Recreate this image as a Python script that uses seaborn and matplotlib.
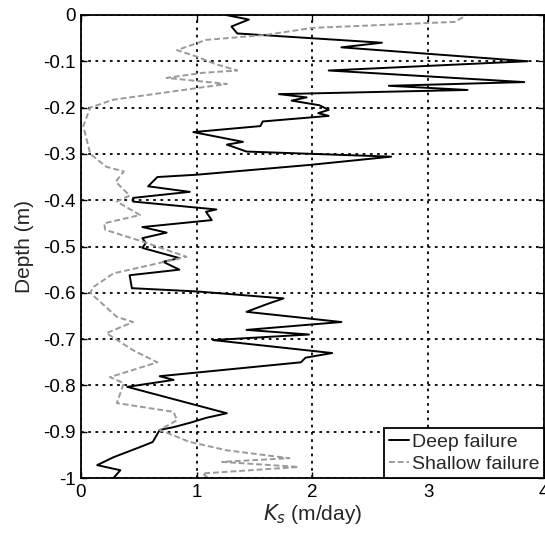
import matplotlib
matplotlib.use("Agg")
import matplotlib.pyplot as plt
import seaborn as sns
import pandas as pd

deep_ks = [1.25, 1.45, 1.3, 1.35, 2.6, 2.25, 3.86, 2.14, 3.83, 2.66, 3.34, 1.71, 1.95, 1.82,
           2.06, 2.14, 2.05, 2.14, 1.57, 1.55, 0.97, 1.4, 1.26, 1.43, 2.68, 1.97, 1.0, 0.66,
           0.58, 0.94, 0.45, 0.45, 1.17, 1.08, 1.13, 0.53, 0.74, 0.53, 0.56, 0.53, 0.85, 0.71,
           0.85, 0.42, 0.44, 1.0, 1.75, 1.6, 1.43, 2.25, 1.43, 1.97, 1.14, 2.17, 1.94, 1.9,
           0.68, 0.8, 0.4, 1.26, 1.08, 0.95, 0.8, 0.68, 0.62, 0.51, 0.28, 0.14, 0.34, 0.28]
deep_depth = [0.0, -0.01, -0.025, -0.04, -0.06, -0.07, -0.10, -0.12, -0.145, -0.153, -0.162,
              -0.171, -0.178, -0.185, -0.195, -0.205, -0.212, -0.218, -0.23, -0.24, -0.253,
              -0.274, -0.28, -0.295, -0.306, -0.324, -0.345, -0.35, -0.37, -0.382, -0.395,
              -0.403, -0.42, -0.425, -0.443, -0.458, -0.47, -0.482, -0.492, -0.503, -0.525,
              -0.533, -0.55, -0.562, -0.59, -0.597, -0.612, -0.625, -0.641, -0.663, -0.68,
              -0.69, -0.702, -0.73, -0.74, -0.75, -0.78, -0.788, -0.803, -0.86, -0.87, -0.88,
              -0.89, -0.896, -0.922, -0.933, -0.955, -0.972, -0.983, -1.0]

shallow_ks = [3.3, 3.23, 2.0, 1.6, 1.08, 0.83, 1.0, 1.15, 1.35, 1.05, 0.74, 1.26, 0.28, 0.08,
              0.02, 0.08, 0.22, 0.37, 0.3, 0.42, 0.31, 0.51, 0.2, 0.21, 0.54, 0.91, 0.6, 0.28,
              0.11, 0.08, 0.31, 0.45, 0.22, 0.45, 0.66, 0.25, 0.37, 0.31, 0.8, 0.83, 0.68, 0.94,
              1.26, 1.8, 1.22, 1.88, 1.05, 1.1]
shallow_depth = [-0.005, -0.015, -0.028, -0.043, -0.054, -0.076, -0.09, -0.105, -0.12, -0.125,
                 -0.136, -0.149, -0.183, -0.2, -0.24, -0.30, -0.328, -0.338, -0.36, -0.39,
                 -0.403, -0.432, -0.45, -0.464, -0.49, -0.522, -0.54, -0.558, -0.587, -0.6,
                 -0.652, -0.663, -0.687, -0.724, -0.75, -0.782, -0.795, -0.838, -0.857, -0.875,
                 -0.896, -0.922, -0.94, -0.957, -0.965, -0.976, -0.99, -1.0]

series_names = ["Deep failure", "Shallow failure"]
x_ticks = [0, 1, 2, 3, 4]
y_ticks = [0, -0.1, -0.2, -0.3, -0.4, -0.5, -0.6, -0.7, -0.8, -0.9, -1]
y_tick_labels = ["0", "-0.1", "-0.2", "-0.3", "-0.4", "-0.5", "-0.6", "-0.7", "-0.8", "-0.9", "-1"]

df = pd.concat([
    pd.DataFrame({"Ks": deep_ks, "Depth": deep_depth, "series": series_names[0]}),
    pd.DataFrame({"Ks": shallow_ks, "Depth": shallow_depth, "series": series_names[1]}),
], ignore_index=True)

sns.set_style("ticks")
plt.rcParams["font.family"] = ["Liberation Sans", "DejaVu Sans"]
plt.rcParams["axes.unicode_minus"] = False

fig = plt.figure(figsize=(5.45, 5.33), dpi=100)
ax = fig.add_axes([0.1486, 0.103, 0.8495, 0.869])

sns.lineplot(data=df, x="Ks", y="Depth", hue="series", style="series", sort=False,
             estimator=None, palette={series_names[0]: "black", series_names[1]: "#9a9a9a"},
             dashes={series_names[0]: "", series_names[1]: (3, 1.5)},
             linewidth=1.4, ax=ax)

ax.set_xlim(0, 4)
ax.set_ylim(-1, 0)
ax.set_xticks(x_ticks)
ax.set_yticks(y_ticks)
ax.set_yticklabels(y_tick_labels)
ax.tick_params(direction="in", labelsize=13.5, length=4, width=1, colors="black",
               top=True, right=True, pad=4)
ax.grid(True, color="black", linestyle=(0, (1.5, 2.5)), linewidth=1.3)
for s in ax.spines.values():
    s.set_visible(True)
    s.set_color("black")
    s.set_linewidth(1.3)

ax.set_xlabel(r"$K_s$ (m/day)", fontsize=15, labelpad=1)
ax.set_ylabel("Depth (m)", fontsize=15, labelpad=6)

leg = ax.legend(loc="lower right", fontsize=14, frameon=True, fancybox=False,
                edgecolor="black", framealpha=1, borderpad=0.25, handlelength=1.0,
                handletextpad=0.15, borderaxespad=0.0, labelspacing=0.25)
leg.get_frame().set_linewidth(1.3)

fig.savefig("out.png", dpi=100)
